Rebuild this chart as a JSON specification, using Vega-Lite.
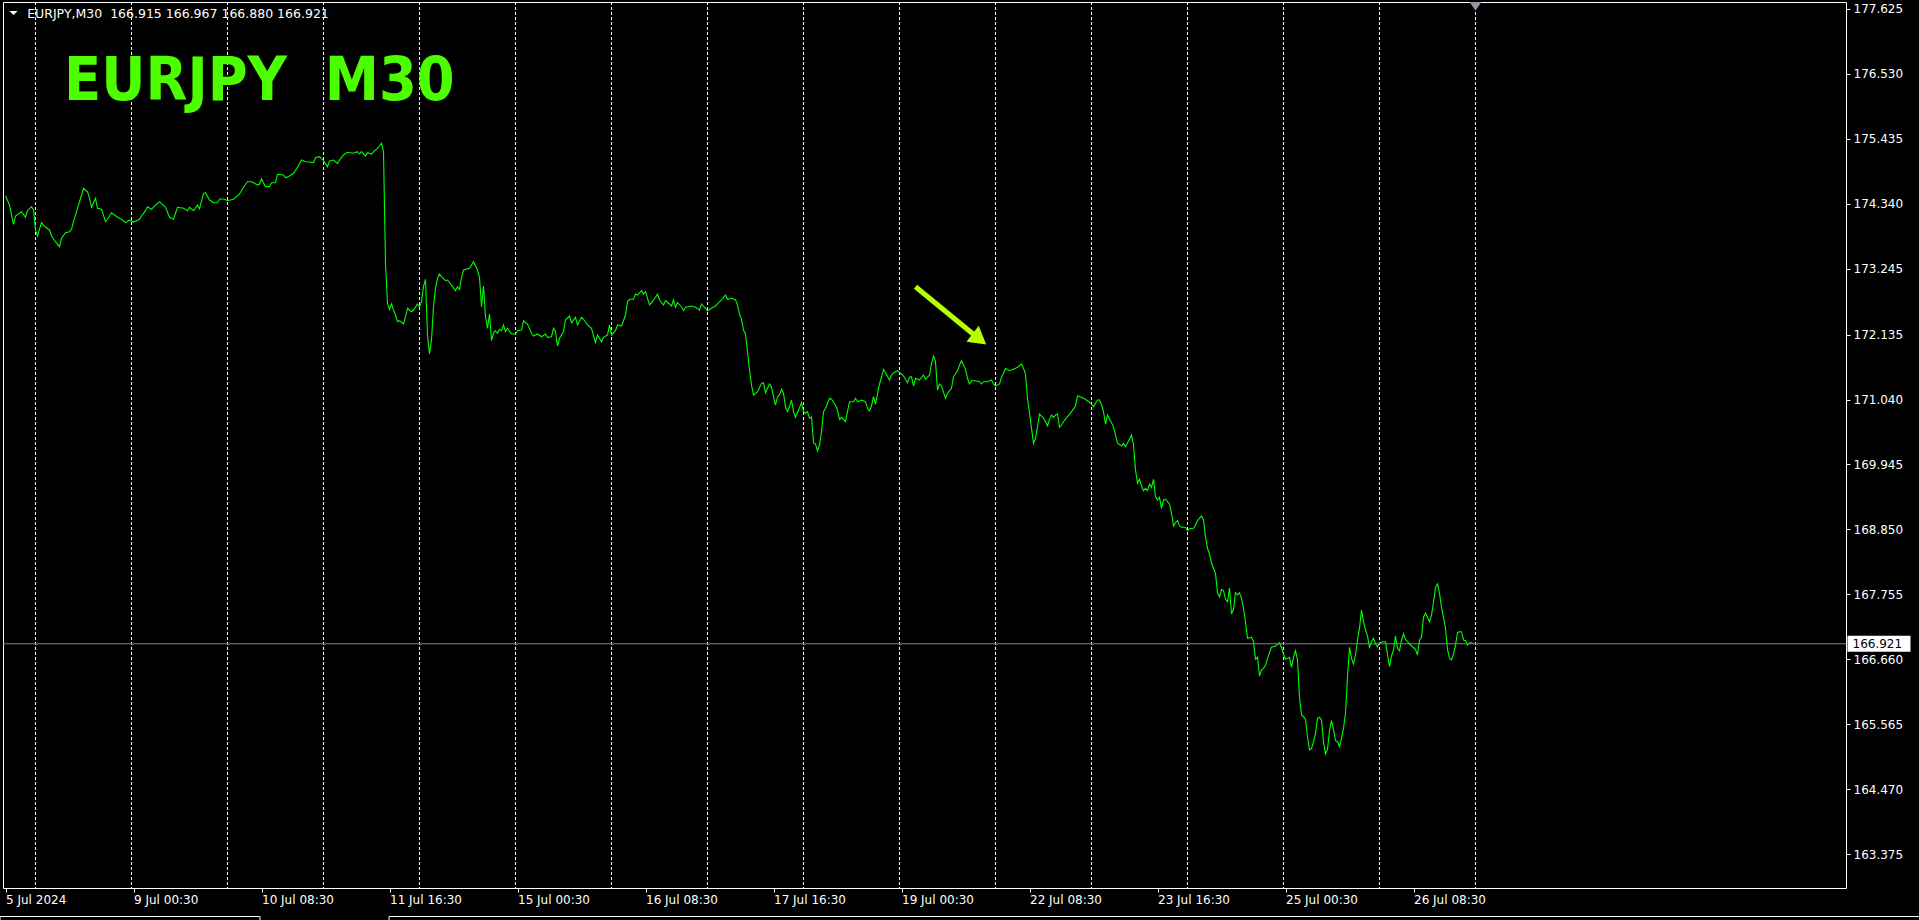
{
  "$schema": "https://vega.github.io/schema/vega-lite/v6.json",
  "width": 1843,
  "height": 886,
  "autosize": {"type": "none"},
  "padding": {"left": 3, "top": 2, "right": 73, "bottom": 32},
  "background": "#000000",
  "config": {
    "view": {"stroke": "#ffffff", "strokeWidth": 1, "fill": "#000000"},
    "font": "DejaVu Sans"
  },
  "datasets": {
    "price": [
      {"bar":0,"price":174.477},{"bar":2,"price":174.320},{"bar":4,"price":173.995},{"bar":5,"price":174.135},{"bar":8,"price":174.207},{"bar":10,"price":174.113},{"bar":11,"price":174.224},{"bar":13,"price":174.291},{"bar":14,"price":174.236},{"bar":15,"price":173.899},{"bar":16,"price":173.797},{"bar":18,"price":174.022},{"bar":20,"price":173.944},{"bar":22,"price":173.899},{"bar":23,"price":173.797},{"bar":25,"price":173.701},{"bar":27,"price":173.617},{"bar":28,"price":173.759},{"bar":30,"price":173.853},{"bar":32,"price":173.870},{"bar":33,"price":173.910},{"bar":34,"price":174.039},{"bar":37,"price":174.376},{"bar":39,"price":174.602},{"bar":41,"price":174.544},{"bar":42,"price":174.433},{"bar":43,"price":174.281},{"bar":45,"price":174.433},{"bar":46,"price":174.264},{"bar":48,"price":174.248},{"bar":50,"price":174.039},{"bar":51,"price":174.079},{"bar":53,"price":174.190},{"bar":56,"price":174.113},{"bar":58,"price":174.079},{"bar":60,"price":174.022},{"bar":62,"price":174.067},{"bar":64,"price":174.033},{"bar":67,"price":174.079},{"bar":68,"price":174.135},{"bar":70,"price":174.224},{"bar":71,"price":174.291},{"bar":73,"price":174.248},{"bar":75,"price":174.320},{"bar":77,"price":174.376},{"bar":80,"price":174.281},{"bar":82,"price":174.113},{"bar":84,"price":174.079},{"bar":86,"price":174.281},{"bar":89,"price":174.264},{"bar":91,"price":174.224},{"bar":92,"price":174.281},{"bar":94,"price":174.224},{"bar":96,"price":174.320},{"bar":97,"price":174.253},{"bar":99,"price":174.517},{"bar":100,"price":174.527},{"bar":102,"price":174.404},{"bar":104,"price":174.359},{"bar":106,"price":174.359},{"bar":107,"price":174.421},{"bar":109,"price":174.421},{"bar":111,"price":174.393},{"bar":114,"price":174.416},{"bar":117,"price":174.506},{"bar":119,"price":174.619},{"bar":121,"price":174.713},{"bar":123,"price":174.713},{"bar":126,"price":174.657},{"bar":127,"price":174.669},{"bar":128,"price":174.759},{"bar":130,"price":174.629},{"bar":132,"price":174.629},{"bar":133,"price":174.696},{"bar":135,"price":174.696},{"bar":136,"price":174.838},{"bar":139,"price":174.826},{"bar":140,"price":174.780},{"bar":142,"price":174.809},{"bar":144,"price":174.855},{"bar":146,"price":174.956},{"bar":148,"price":175.079},{"bar":150,"price":175.050},{"bar":152,"price":175.045},{"bar":154,"price":175.033},{"bar":155,"price":175.118},{"bar":157,"price":175.135},{"bar":159,"price":175.067},{"bar":161,"price":174.966},{"bar":162,"price":175.062},{"bar":164,"price":175.079},{"bar":166,"price":175.023},{"bar":167,"price":175.079},{"bar":169,"price":175.163},{"bar":171,"price":175.209},{"bar":174,"price":175.192},{"bar":176,"price":175.219},{"bar":177,"price":175.180},{"bar":178,"price":175.219},{"bar":180,"price":175.146},{"bar":181,"price":175.202},{"bar":183,"price":175.180},{"bar":184,"price":175.219},{"bar":186,"price":175.276},{"bar":187,"price":175.315},{"bar":188,"price":175.361},{"bar":189,"price":175.219},{"bar":190,"price":173.342},{"bar":191,"price":172.662},
      {"bar":192,"price":172.561},{"bar":193,"price":172.651},{"bar":194,"price":172.549},{"bar":195,"price":172.465},{"bar":196,"price":172.352},{"bar":197,"price":172.369},{"bar":199,"price":172.313},{"bar":200,"price":172.437},{"bar":201,"price":172.578},{"bar":203,"price":172.521},{"bar":204,"price":172.549},{"bar":206,"price":172.651},{"bar":207,"price":172.605},{"bar":208,"price":172.689},{"bar":209,"price":172.942},{"bar":210,"price":173.067},{"bar":211,"price":172.128},{"bar":212,"price":171.807},{"bar":213,"price":172.044},{"bar":214,"price":172.605},{"bar":215,"price":172.915},{"bar":216,"price":173.084},{"bar":217,"price":173.157},{"bar":218,"price":173.111},{"bar":220,"price":173.044},{"bar":221,"price":173.055},{"bar":223,"price":172.971},{"bar":225,"price":172.875},{"bar":226,"price":172.942},{"bar":227,"price":172.898},{"bar":228,"price":173.101},{"bar":229,"price":173.224},{"bar":232,"price":173.253},{"bar":234,"price":173.364},{"bar":236,"price":173.224},{"bar":237,"price":173.101},{"bar":238,"price":172.605},{"bar":239,"price":172.954},{"bar":240,"price":172.437},{"bar":241,"price":172.241},{"bar":242,"price":172.482},{"bar":243,"price":172.032},{"bar":244,"price":172.157},{"bar":245,"price":172.200},{"bar":246,"price":172.157},{"bar":247,"price":172.224},{"bar":248,"price":172.200},{"bar":249,"price":172.297},{"bar":250,"price":172.183},{"bar":251,"price":172.241},{"bar":253,"price":172.145},{"bar":255,"price":172.145},{"bar":256,"price":172.200},{"bar":258,"price":172.212},{"bar":259,"price":172.369},{"bar":260,"price":172.335},{"bar":261,"price":172.313},{"bar":263,"price":172.157},{"bar":264,"price":172.111},{"bar":266,"price":172.145},{"bar":268,"price":172.099},{"bar":270,"price":172.145},{"bar":271,"price":172.089},{"bar":273,"price":172.099},{"bar":274,"price":172.241},{"bar":275,"price":172.183},{"bar":276,"price":171.942},{"bar":277,"price":172.072},{"bar":279,"price":172.183},{"bar":280,"price":172.381},{"bar":282,"price":172.448},{"bar":283,"price":172.335},{"bar":285,"price":172.426},{"bar":286,"price":172.297},{"bar":288,"price":172.426},{"bar":289,"price":172.393},{"bar":291,"price":172.297},{"bar":293,"price":172.241},{"bar":295,"price":171.998},{"bar":296,"price":172.128},{"bar":298,"price":172.015},{"bar":299,"price":172.089},{"bar":301,"price":172.128},{"bar":302,"price":172.297},{"bar":303,"price":172.128},{"bar":305,"price":172.200},{"bar":306,"price":172.297},{"bar":308,"price":172.280},{"bar":309,"price":172.369},{"bar":310,"price":172.465},{"bar":311,"price":172.689},{"bar":312,"price":172.730},{"bar":314,"price":172.730},{"bar":315,"price":172.819},{"bar":316,"price":172.802},{"bar":318,"price":172.875},{"bar":319,"price":172.819},{"bar":320,"price":172.858},{"bar":322,"price":172.634},{"bar":323,"price":172.673},{"bar":325,"price":172.764},{"bar":326,"price":172.819},{"bar":327,"price":172.718},{"bar":329,"price":172.634},{"bar":330,"price":172.706},{"bar":332,"price":172.651},{"bar":333,"price":172.617},{"bar":334,"price":172.718},{"bar":335,"price":172.595},{"bar":336,"price":172.673},{"bar":338,"price":172.605},{"bar":339,"price":172.538},{"bar":340,"price":172.595},{"bar":343,"price":172.617},{"bar":345,"price":172.595},{"bar":347,"price":172.549},{"bar":348,"price":172.651},{"bar":350,"price":172.578},{"bar":351,"price":172.538},{"bar":353,"price":172.578},{"bar":355,"price":172.617},{"bar":356,"price":172.651},{"bar":358,"price":172.718},{"bar":360,"price":172.802},{"bar":361,"price":172.730},{"bar":363,"price":172.747},{"bar":365,"price":172.718},{"bar":366,"price":172.634},{"bar":367,"price":172.482},{"bar":368,"price":172.393},{"bar":369,"price":172.212},{"bar":370,"price":172.145},{"bar":371,"price":171.846},{"bar":372,"price":171.538},{"bar":373,"price":171.285},{"bar":374,"price":171.116},{"bar":376,"price":171.167},
      {"bar":378,"price":171.313},{"bar":379,"price":171.324},{"bar":380,"price":171.155},{"bar":382,"price":171.302},{"bar":383,"price":171.246},{"bar":385,"price":170.947},{"bar":386,"price":171.087},{"bar":387,"price":171.116},{"bar":388,"price":171.212},{"bar":389,"price":171.145},{"bar":390,"price":170.909},{"bar":391,"price":170.835},{"bar":392,"price":170.919},{"bar":393,"price":171.032},{"bar":394,"price":170.835},{"bar":395,"price":170.740},{"bar":396,"price":170.818},{"bar":398,"price":170.986},{"bar":399,"price":170.835},{"bar":400,"price":170.808},{"bar":401,"price":170.835},{"bar":402,"price":170.723},{"bar":403,"price":170.750},{"bar":404,"price":170.312},{"bar":405,"price":170.290},{"bar":406,"price":170.172},{"bar":407,"price":170.273},{"bar":408,"price":170.497},{"bar":409,"price":170.835},{"bar":410,"price":170.892},{"bar":412,"price":171.060},{"bar":413,"price":171.044},{"bar":415,"price":170.947},{"bar":416,"price":170.863},{"bar":417,"price":170.706},{"bar":418,"price":170.740},{"bar":420,"price":170.666},{"bar":421,"price":170.835},{"bar":422,"price":171.003},{"bar":424,"price":171.003},{"bar":425,"price":171.060},{"bar":426,"price":171.003},{"bar":428,"price":171.032},{"bar":430,"price":171.003},{"bar":431,"price":170.892},{"bar":432,"price":170.851},{"bar":433,"price":170.931},{"bar":434,"price":171.087},{"bar":435,"price":170.964},{"bar":437,"price":171.302},{"bar":438,"price":171.415},{"bar":439,"price":171.549},{"bar":440,"price":171.492},{"bar":442,"price":171.369},{"bar":443,"price":171.453},{"bar":444,"price":171.492},{"bar":446,"price":171.526},{"bar":448,"price":171.470},{"bar":449,"price":171.437},{"bar":451,"price":171.324},{"bar":452,"price":171.415},{"bar":453,"price":171.425},{"bar":454,"price":171.268},{"bar":455,"price":171.398},{"bar":457,"price":171.369},{"bar":459,"price":171.453},{"bar":460,"price":171.381},{"bar":462,"price":171.453},{"bar":463,"price":171.651},{"bar":464,"price":171.774},{"bar":465,"price":171.678},{"bar":466,"price":171.200},{"bar":467,"price":171.302},{"bar":468,"price":171.268},{"bar":470,"price":171.060},{"bar":471,"price":171.145},{"bar":473,"price":171.229},{"bar":474,"price":171.425},{"bar":476,"price":171.526},{"bar":477,"price":171.622},{"bar":478,"price":171.694},{"bar":480,"price":171.549},{"bar":481,"price":171.398},{"bar":482,"price":171.302},{"bar":483,"price":171.357},{"bar":485,"price":171.357},{"bar":487,"price":171.340},{"bar":488,"price":171.302},{"bar":489,"price":171.340},{"bar":491,"price":171.340},{"bar":493,"price":171.369},{"bar":494,"price":171.302},{"bar":495,"price":171.268},{"bar":497,"price":171.302},{"bar":498,"price":171.415},{"bar":499,"price":171.482},{"bar":500,"price":171.566},{"bar":502,"price":171.526},{"bar":503,"price":171.538},{"bar":505,"price":171.566},{"bar":506,"price":171.583},{"bar":508,"price":171.639},{"bar":509,"price":171.566},{"bar":510,"price":171.470},{"bar":511,"price":171.060},{"bar":512,"price":170.808},{"bar":513,"price":170.555},{"bar":514,"price":170.302},{"bar":515,"price":170.386},{"bar":516,"price":170.582},{"bar":517,"price":170.796},{"bar":518,"price":170.762},{"bar":519,"price":170.723},{"bar":520,"price":170.666},{"bar":521,"price":170.593},{"bar":522,"price":170.706},{"bar":523,"price":170.779},{"bar":524,"price":170.740},{"bar":525,"price":170.779},{"bar":526,"price":170.796},{"bar":527,"price":170.572},{"bar":528,"price":170.610},{"bar":529,"price":170.666},{"bar":531,"price":170.750},{"bar":533,"price":170.835},{"bar":535,"price":170.931},{"bar":536,"price":171.099},{"bar":538,"price":171.077},{"bar":540,"price":171.044},{"bar":541,"price":171.020},{"bar":543,"price":170.964},{"bar":544,"price":170.919},{"bar":545,"price":170.976},{"bar":546,"price":171.032},{"bar":547,"price":171.032},{"bar":548,"price":170.947},{"bar":549,"price":170.835},{"bar":550,"price":170.627},{"bar":551,"price":170.779},{"bar":552,"price":170.706},{"bar":553,"price":170.649},{"bar":554,"price":170.582},{"bar":555,"price":170.442},{"bar":556,"price":170.302},{"bar":558,"price":170.256},{"bar":559,"price":170.302},{"bar":560,"price":170.244},{"bar":562,"price":170.369},{"bar":563,"price":170.442},
      {"bar":564,"price":170.273},{"bar":565,"price":169.851},{"bar":566,"price":169.627},{"bar":567,"price":169.694},{"bar":568,"price":169.582},{"bar":569,"price":169.502},{"bar":570,"price":169.543},{"bar":571,"price":169.502},{"bar":572,"price":169.615},{"bar":573,"price":169.560},{"bar":574,"price":169.694},{"bar":575,"price":169.401},{"bar":576,"price":169.345},{"bar":577,"price":169.391},{"bar":578,"price":169.205},{"bar":579,"price":169.345},{"bar":580,"price":169.357},{"bar":582,"price":169.278},{"bar":583,"price":169.121},{"bar":584,"price":168.907},{"bar":585,"price":168.963},{"bar":586,"price":168.997},{"bar":587,"price":168.907},{"bar":588,"price":168.885},{"bar":590,"price":168.885},{"bar":591,"price":168.828},{"bar":592,"price":168.862},{"bar":594,"price":168.868},{"bar":595,"price":168.924},{"bar":596,"price":168.997},{"bar":598,"price":169.076},{"bar":599,"price":169.008},{"bar":600,"price":168.727},{"bar":601,"price":168.531},{"bar":602,"price":168.435},{"bar":603,"price":168.278},{"bar":604,"price":168.194},{"bar":605,"price":168.109},{"bar":606,"price":167.782},{"bar":607,"price":167.715},{"bar":608,"price":167.840},{"bar":609,"price":167.816},{"bar":610,"price":167.671},{"bar":611,"price":167.630},{"bar":612,"price":167.862},{"bar":613,"price":167.423},{"bar":614,"price":167.502},{"bar":615,"price":167.782},{"bar":616,"price":167.744},{"bar":617,"price":167.782},{"bar":618,"price":167.688},{"bar":619,"price":167.519},{"bar":620,"price":167.293},{"bar":621,"price":167.013},{"bar":623,"price":167.030},{"bar":624,"price":166.956},{"bar":625,"price":166.659},{"bar":626,"price":166.693},{"bar":627,"price":166.378},{"bar":628,"price":166.479},{"bar":629,"price":166.507},{"bar":630,"price":166.563},{"bar":632,"price":166.771},{"bar":633,"price":166.862},{"bar":635,"price":166.884},{"bar":637,"price":166.939},{"bar":638,"price":166.862},{"bar":639,"price":166.749},{"bar":640,"price":166.659},{"bar":642,"price":166.693},{"bar":643,"price":166.524},{"bar":644,"price":166.693},{"bar":645,"price":166.804},{"bar":646,"price":166.647},{"bar":647,"price":166.029},{"bar":648,"price":165.720},{"bar":649,"price":165.691},{"bar":650,"price":165.647},{"bar":651,"price":165.354},{"bar":652,"price":165.130},{"bar":653,"price":165.158},{"bar":654,"price":165.270},{"bar":655,"price":165.411},{"bar":656,"price":165.664},{"bar":657,"price":165.681},{"bar":658,"price":165.636},{"bar":659,"price":165.270},{"bar":660,"price":165.062},{"bar":661,"price":165.142},{"bar":662,"price":165.455},{"bar":663,"price":165.624},{"bar":664,"price":165.479},{"bar":665,"price":165.287},{"bar":666,"price":165.270},{"bar":667,"price":165.185},{"bar":668,"price":165.327},{"bar":669,"price":165.496},{"bar":670,"price":165.749},{"bar":671,"price":166.366},{"bar":672,"price":166.862},{"bar":673,"price":166.676},{"bar":674,"price":166.580},{"bar":675,"price":166.732},{"bar":676,"price":166.985},{"bar":677,"price":167.182},{"bar":678,"price":167.491},{"bar":679,"price":167.293},{"bar":680,"price":167.153},{"bar":681,"price":167.052},{"bar":682,"price":166.862},{"bar":683,"price":166.956},{"bar":684,"price":167.013},{"bar":685,"price":166.917},{"bar":686,"price":166.872},{"bar":687,"price":166.939},{"bar":689,"price":166.956},{"bar":690,"price":166.956},{"bar":692,"price":166.534},{"bar":693,"price":166.715},{"bar":694,"price":166.816},{"bar":695,"price":167.052},{"bar":696,"price":166.845},{"bar":697,"price":166.804},{"bar":698,"price":166.985},{"bar":699,"price":167.086},{"bar":700,"price":166.996},{"bar":701,"price":166.956},{"bar":703,"price":166.884},{"bar":705,"price":166.828},{"bar":706,"price":166.732},{"bar":707,"price":166.985},{"bar":708,"price":167.030},{"bar":709,"price":167.368},{"bar":710,"price":167.435},{"bar":712,"price":167.293},{"bar":713,"price":167.406},{"bar":714,"price":167.614},{"bar":715,"price":167.873},{"bar":716,"price":167.929},{"bar":717,"price":167.772},{"bar":718,"price":167.536},{"bar":720,"price":167.182},{"bar":721,"price":166.828},{"bar":722,"price":166.676},{"bar":723,"price":166.647},{"bar":724,"price":166.749},{"bar":725,"price":166.900},{"bar":726,"price":167.108},{"bar":727,"price":167.125},{"bar":728,"price":167.125},{"bar":729,"price":166.985},{"bar":730,"price":166.973},{"bar":731,"price":166.900},{"bar":732,"price":166.939},{"bar":733,"price":166.939},{"bar":734,"price":166.921}
    ],
    "grid": [
      {"bar":15},{"bar":63},{"bar":111},{"bar":159},{"bar":207},{"bar":255},{"bar":303},{"bar":351},{"bar":399},{"bar":447},{"bar":495},{"bar":543},{"bar":591},{"bar":639},{"bar":687},{"bar":735}
    ],
    "tabs": [
      {"from": -2.75, "to": 127.25},
      {"from": 191.75, "to": 958}
    ],
    "one": [{}]
  },
  "layer": [
    {
      "data": {"name": "grid"},
      "mark": {"type": "rule", "color": "#ffffff", "strokeWidth": 1, "strokeDash": [3, 2]},
      "encoding": {
        "x": {
          "field": "bar", "type": "quantitative",
          "scale": {"domain": [-1.25, 920.25], "nice": false, "zero": false},
          "axis": {
            "orient": "bottom",
            "values": [0, 64, 128, 192, 256, 320, 384, 448, 512, 576, 640, 704],
            "labelExpr": "['5 Jul 2024','9 Jul 00:30','10 Jul 08:30','11 Jul 16:30','15 Jul 00:30','16 Jul 08:30','17 Jul 16:30','19 Jul 00:30','22 Jul 08:30','23 Jul 16:30','25 Jul 00:30','26 Jul 08:30'][round(datum.value/64)]",
            "labelAlign": "left",
            "labelBaseline": "top",
            "labelPadding": 2,
            "labelColor": "#ffffff",
            "labelFont": "DejaVu Sans",
            "labelFontSize": 12,
            "labelFlush": false,
            "labelOverlap": false,
            "tickColor": "#ffffff",
            "tickSize": 4,
            "domain": false,
            "grid": false,
            "title": null
          }
        }
      }
    },
    {
      "data": {"name": "tabs"},
      "mark": {"type": "rect", "fill": "#000000", "stroke": "#ffffff", "strokeWidth": 1},
      "encoding": {
        "x": {"field": "from", "type": "quantitative"},
        "x2": {"field": "to"},
        "y": {"datum": 162.322},
        "y2": {"datum": 162.15}
      }
    },
    {
      "data": {"name": "price"},
      "mark": {"type": "line", "color": "#00ff00", "strokeWidth": 1.1},
      "encoding": {
        "x": {"field": "bar", "type": "quantitative"},
        "y": {
          "field": "price", "type": "quantitative",
          "scale": {"domain": [162.803, 177.743], "nice": false, "zero": false},
          "axis": {
            "orient": "right",
            "values": [177.625, 176.530, 175.435, 174.340, 173.245, 172.135, 171.040, 169.945, 168.850, 167.755, 166.660, 165.565, 164.470, 163.375],
            "format": ".3f",
            "labelColor": "#ffffff",
            "labelFont": "DejaVu Sans",
            "labelFontSize": 12,
            "labelPadding": 3,
            "labelOverlap": false,
            "labelFlush": false,
            "tickColor": "#ffffff",
            "tickSize": 4,
            "domain": false,
            "grid": false,
            "title": null
          }
        }
      }
    },
    {
      "data": {"name": "one"},
      "mark": {"type": "rule", "color": "#778899", "strokeWidth": 1},
      "encoding": {"y": {"datum": 166.921}}
    },
    {
      "data": {"name": "one"},
      "mark": {"type": "rect", "color": "#ffffff"},
      "encoding": {
        "x": {"datum": 921}, "x2": {"datum": 952.5},
        "y": {"datum": 167.057}, "y2": {"datum": 166.787}
      }
    },
    {
      "data": {"name": "one"},
      "mark": {"type": "text", "color": "#000000", "font": "DejaVu Sans", "fontSize": 12, "align": "left", "baseline": "middle"},
      "encoding": {
        "x": {"datum": 923.5}, "y": {"datum": 166.921},
        "text": {"value": "166.921"}
      }
    },
    {
      "data": {"name": "one"},
      "mark": {"type": "rule", "color": "#b8ff00", "strokeWidth": 5, "strokeCap": "butt"},
      "encoding": {
        "x": {"datum": 455}, "y": {"datum": 172.942},
        "x2": {"datum": 484.4}, "y2": {"datum": 172.128}
      }
    },
    {
      "data": {"name": "one"},
      "mark": {"type": "point", "shape": "triangle-up", "filled": true, "size": 400, "angle": 128, "color": "#b8ff00", "opacity": 1, "strokeWidth": 0},
      "encoding": {"x": {"datum": 486.95}, "y": {"datum": 172.059}}
    },
    {
      "data": {"name": "one"},
      "mark": {"type": "text", "color": "#4cff00", "font": "DejaVu Sans Condensed, DejaVu Sans", "fontWeight": "bold", "fontSize": 60.5, "align": "left", "baseline": "alphabetic"},
      "encoding": {
        "x": {"datum": 29.3}, "y": {"datum": 176.091},
        "text": {"value": "EURJPY\u00a0\u00a0M30"}
      }
    },
    {
      "data": {"name": "one"},
      "mark": {"type": "text", "color": "#ffffff", "font": "DejaVu Sans", "fontSize": 12.5, "align": "left", "baseline": "alphabetic"},
      "encoding": {
        "x": {"datum": 10.85}, "y": {"datum": 177.473},
        "text": {"value": "EURJPY,M30\u00a0\u00a0166.915 166.967 166.880 166.921"}
      }
    },
    {
      "data": {"name": "one"},
      "mark": {"type": "point", "shape": "M-1,-0.5L1,-0.5L0,0.5Z", "filled": true, "size": 64, "color": "#ffffff", "opacity": 1, "strokeWidth": 0},
      "encoding": {"x": {"datum": 4}, "y": {"datum": 177.558}}
    },
    {
      "data": {"name": "one"},
      "mark": {"type": "point", "shape": "M-1,-0.7L1,-0.7L0,0.7Z", "filled": true, "size": 144, "color": "#8f9aa6", "opacity": 1, "strokeWidth": 0},
      "encoding": {"x": {"datum": 735}, "y": {"datum": 177.672}}
    }
  ]
}
